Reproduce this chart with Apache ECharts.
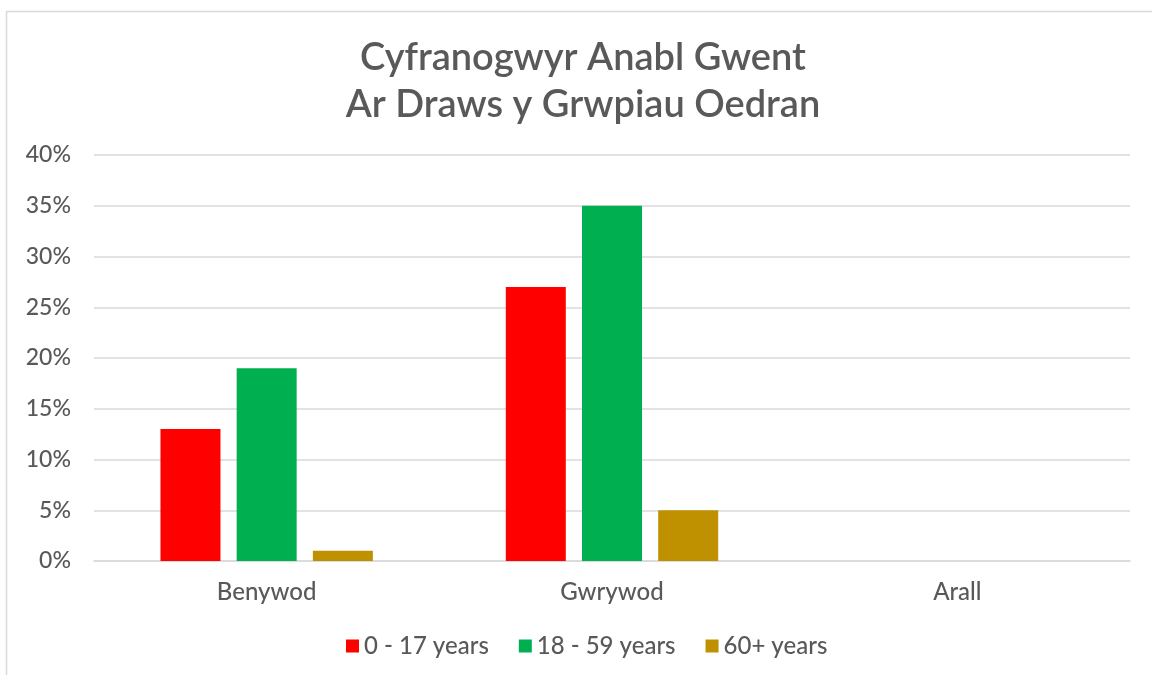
<!DOCTYPE html>
<html><head><meta charset="utf-8">
<script src="https://cdn.jsdelivr.net/npm/echarts@6/dist/echarts.min.js"></script>
<style>html,body{margin:0;padding:0;background:#fff}#c{width:1152px;height:675px}</style>
</head><body><div id="c"></div>
<script>
const categories = ['Benywod', 'Gwrywod', 'Arall'];
const seriesNames = ['0 - 17 years', '18 - 59 years', '60+ years'];
const age0to17 = [13, 27, 0];
const age18to59 = [19, 35, 0];
const age60plus = [1, 5, 0];
const colors = ['#FF0000', '#00B050', '#BF9000'];
const titleLines = ['Cyfranogwyr Anabl Gwent', 'Ar Draws y Grwpiau Oedran'];

const font = 'Lato';
const chart = echarts.init(document.getElementById('c'), null, {renderer: 'canvas'});
const dataSets = [age0to17, age18to59, age60plus];
chart.setOption({
  animation: false,
  backgroundColor: '#fff',
  graphic: [{
    type: 'rect', shape: {x: 6.5, y: 11.5, width: 1300, height: 800},
    style: {fill: 'none', stroke: '#D9D9D9', lineWidth: 1.5}, silent: true, z: -1
  }],
  title: {
    text: titleLines.join('\n'), left: 578, textAlign: 'center', top: 29,
    textStyle: {fontFamily: font, fontSize: 38, fontWeight: 600, color: '#595959', lineHeight: 47}
  },
  legend: {
    data: seriesNames, top: 629, left: 341, itemWidth: 13, itemHeight: 13, itemGap: 30,
    icon: 'rect',
    textStyle: {fontFamily: font, fontSize: 24, fontWeight: 500, color: '#595959', padding: [0, 0, 0, 0]}
  },
  grid: {left: 94, right: 22, top: 155, bottom: 114, containLabel: false},
  xAxis: {
    type: 'category', data: categories,
    axisLine: {lineStyle: {color: '#D9D9D9', width: 1.5}},
    axisTick: {show: false},
    axisLabel: {fontFamily: font, fontSize: 24, fontWeight: 500, color: '#595959', margin: 19}
  },
  yAxis: {
    type: 'value', min: 0, max: 40, interval: 5,
    axisLine: {show: false}, axisTick: {show: false},
    splitLine: {lineStyle: {color: '#D9D9D9', width: 1.5}},
    axisLabel: {fontFamily: font, fontSize: 23, fontWeight: 500, color: '#595959', formatter: '{value}%', margin: 23}
  },
  series: seriesNames.map((n, i) => ({
    name: n, type: 'bar', data: dataSets[i], barWidth: 60, barGap: '27%',
    itemStyle: {color: colors[i]}
  }))
});
</script></body></html>
